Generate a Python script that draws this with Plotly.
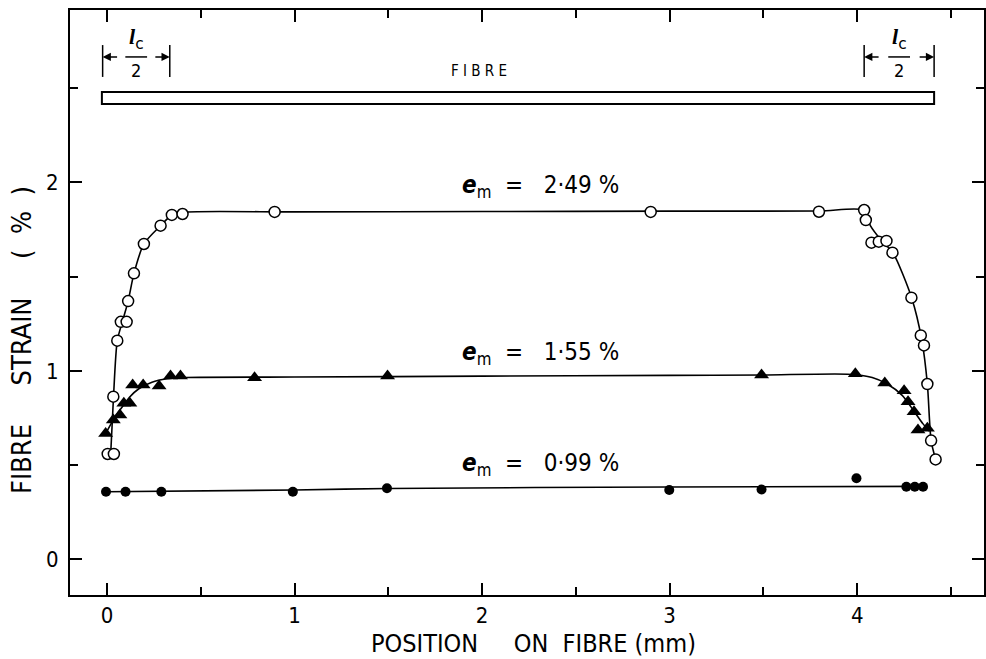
import plotly.graph_objects as go

# Measured fibre strain along the fibre for three matrix strains
pos_249 = [0.004, 0.037, 0.034, 0.055, 0.074, 0.105, 0.113, 0.144, 0.197, 0.286, 0.346, 0.403,
           0.894, 2.899, 3.796, 4.037, 4.046, 4.076, 4.115, 4.156, 4.188, 4.289, 4.339, 4.356,
           4.374, 4.394, 4.418]
strain_249 = [0.559, 0.559, 0.863, 1.160, 1.26, 1.26, 1.370, 1.517, 1.673, 1.770, 1.827, 1.832,
              1.843, 1.843, 1.844, 1.853, 1.80, 1.68, 1.685, 1.689, 1.627, 1.388, 1.188, 1.135,
              0.930, 0.630, 0.530]

pos_155 = [-0.007, 0.034, 0.069, 0.090, 0.122, 0.137, 0.193, 0.278, 0.339, 0.392, 0.787, 1.496,
           3.49, 3.99, 4.147, 4.25, 4.271, 4.303, 4.324, 4.374]
strain_155 = [0.667, 0.739, 0.766, 0.828, 0.828, 0.925, 0.925, 0.919, 0.972, 0.972, 0.963, 0.972,
              0.978, 0.985, 0.935, 0.894, 0.836, 0.783, 0.686, 0.695]

pos_099 = [-0.005, 0.099, 0.29, 0.991, 1.493, 2.998, 3.49, 3.996, 4.262, 4.307, 4.351]
strain_099 = [0.359, 0.359, 0.359, 0.359, 0.377, 0.368, 0.371, 0.43, 0.385, 0.385, 0.385]

# Hand-faired curves through each data set
fit_x_249 = [0.02, 0.035, 0.055, 0.085, 0.113, 0.144, 0.197, 0.286, 0.346, 0.42, 1.0, 2.0, 3.0,
             3.8, 4.035, 4.07, 4.13, 4.19, 4.29, 4.345, 4.374, 4.394, 4.418]
fit_y_249 = [0.56, 0.863, 1.16, 1.27, 1.37, 1.517, 1.673, 1.77, 1.827, 1.842, 1.843, 1.845, 1.847,
             1.848, 1.852, 1.77, 1.69, 1.627, 1.388, 1.16, 0.93, 0.63, 0.53]

fit_x_155 = [-0.007, 0.034, 0.075, 0.12, 0.17, 0.24, 0.32, 0.42, 1.0, 2.0, 3.0, 3.5, 3.95, 4.08,
             4.16, 4.24, 4.30, 4.35, 4.385]
fit_y_155 = [0.667, 0.74, 0.80, 0.86, 0.905, 0.94, 0.958, 0.965, 0.967, 0.972, 0.976, 0.978, 0.982,
             0.965, 0.93, 0.87, 0.79, 0.72, 0.68]

fit_x_099 = [-0.005, 1.0, 1.5, 3.0, 4.35]
fit_y_099 = [0.359, 0.368, 0.376, 0.384, 0.387]

curve_labels = ["2·49", "1·55", "0·99"]
label_x = [1.88, 1.88, 1.88]
label_y = [1.98, 1.09, 0.505]

# Fibre sketch and the l_c/2 end zones
fibre_x = [-0.027, 4.41]
fibre_y = [2.415, 2.479]
zone_left = [-0.023, 0.335]
zone_right = [4.037, 4.41]
zone_y = [2.559, 2.728]
arrow_y = 2.665

FONT = "Liberation Sans Narrow, DejaVu Sans Condensed, Arial Narrow, sans-serif"
SERIF = "Liberation Serif, DejaVu Serif, serif"
INK = "black"

fig = go.Figure()

for fx, fy in [(fit_x_249, fit_y_249), (fit_x_155, fit_y_155), (fit_x_099, fit_y_099)]:
    fig.add_trace(go.Scatter(x=fx, y=fy, mode="lines",
                             line=dict(color=INK, width=1.6, shape="spline", smoothing=0.7),
                             hoverinfo="skip", showlegend=False))

fig.add_trace(go.Scatter(x=pos_249, y=strain_249, mode="markers", showlegend=False,
                         marker=dict(symbol="circle", size=11, color="white",
                                     line=dict(color=INK, width=1.5))))
fig.add_trace(go.Scatter(x=pos_155, y=strain_155, mode="markers", showlegend=False,
                         marker=dict(symbol="triangle-up", size=13, color=INK,
                                     line=dict(color=INK, width=0))))
fig.add_trace(go.Scatter(x=pos_099, y=strain_099, mode="markers", showlegend=False,
                         marker=dict(symbol="circle", size=10, color=INK,
                                     line=dict(color=INK, width=0))))

shapes = [dict(type="rect", xref="x", yref="y", x0=fibre_x[0], x1=fibre_x[1],
               y0=fibre_y[0], y1=fibre_y[1], line=dict(color=INK, width=2), fillcolor="white")]
for bx in zone_left + zone_right:
    shapes.append(dict(type="line", xref="x", yref="y", x0=bx, x1=bx, y0=zone_y[0], y1=zone_y[1],
                       line=dict(color=INK, width=1.5)))
annotations = []
for (a, b) in [zone_left, zone_right]:
    mid = (a + b) / 2
    shapes.append(dict(type="line", xref="x", yref="y", x0=mid - 0.058, x1=mid + 0.058,
                       y0=arrow_y, y1=arrow_y, line=dict(color=INK, width=1.5)))
    for head, tail in [(a, a + 0.085), (b, b - 0.085)]:
        annotations.append(dict(x=head, y=arrow_y, ax=tail, ay=arrow_y, xref="x", yref="y",
                                axref="x", ayref="y", text="", showarrow=True, arrowhead=2,
                                arrowsize=1.1, arrowwidth=1.5, arrowcolor=INK))
    annotations.append(dict(x=mid, y=arrow_y + 0.1, xref="x", yref="y", showarrow=False,
                            text="<b><i>l</i></b><sub><span style='font-family:DejaVu Sans'>c</span></sub>",
                            font=dict(family=SERIF, size=22, color=INK)))
    annotations.append(dict(x=mid, y=arrow_y - 0.07, xref="x", yref="y", showarrow=False,
                            text="2", font=dict(family=FONT, size=18, color=INK)))

annotations.append(dict(x=1.984, y=2.59, xref="x", yref="y", showarrow=False, text="F I B R E",
                        font=dict(family=FONT, size=15, color=INK)))

for lx, ly, lab in zip(label_x, label_y, curve_labels):
    annotations.append(dict(x=lx, y=ly, xref="x", yref="y", showarrow=False, xanchor="left",
                            text=f"<b><i>e</i></b><sub>m</sub>  =   {lab} %",
                            font=dict(family=FONT, size=24, color=INK)))

# Axis titles
annotations.append(dict(x=0.5066, y=-0.083, xref="paper", yref="paper", showarrow=False,
                        xanchor="center", yanchor="middle",
                        text="POSITION     ON  FIBRE (mm)",
                        font=dict(family=FONT, size=25, color=INK)))
annotations.append(dict(x=-0.0524, y=0.436, xref="paper", yref="paper", showarrow=False,
                        xanchor="center", yanchor="middle",
                        textangle=-90, text="FIBRE     STRAIN     (  %  )",
                        font=dict(family=FONT, size=27, color=INK)))

axis_common = dict(showline=True, linecolor=INK, linewidth=2, mirror="allticks",
                   ticks="inside", ticklen=12, tickwidth=1.5, tickcolor=INK,
                   showgrid=False, zeroline=False, tickmode="linear", tick0=0, dtick=1,
                   tickfont=dict(family=FONT, size=22, color=INK),
                   minor=dict(ticks="inside", ticklen=8, tickwidth=1.5, tickcolor=INK,
                              dtick=0.5, tick0=0, showgrid=False))

fig.update_layout(
    width=986, height=659,
    margin=dict(l=70, r=0, t=10, b=64),
    paper_bgcolor="white", plot_bgcolor="white",
    xaxis=dict(range=[-0.197, 4.676], ticklabelstandoff=0, **axis_common),
    yaxis=dict(range=[-0.189, 2.914], ticklabelstandoff=5, **axis_common),
    shapes=shapes, annotations=annotations,
)

fig.write_html("out.html")
